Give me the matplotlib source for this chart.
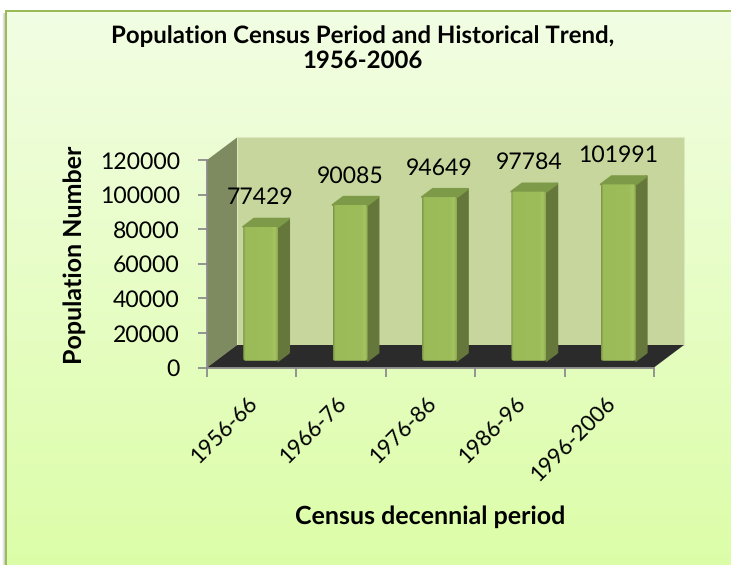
import numpy as np
import matplotlib
matplotlib.use("Agg")
import matplotlib.pyplot as plt
from matplotlib.patches import Polygon, FancyBboxPatch, Rectangle
from matplotlib.colors import LinearSegmentedColormap

periods = ["1956-66", "1966-76", "1976-86", "1986-96", "1996-2006"]
population = [77429, 90085, 94649, 97784, 101991]
y_ticks = [0, 20000, 40000, 60000, 80000, 100000, 120000]
title = "Population Census Period and Historical Trend,\n1956-2006"
x_label = "Census decennial period"
y_label = "Population Number"

W, H = 731, 565
plt.rcParams['font.family'] = ['Lato', 'DejaVu Sans']
plt.rcParams['text.hinting'] = 'no_hinting'
plt.rcParams['text.hinting_factor'] = 1
fig = plt.figure(figsize=(W / 100, H / 100), dpi=100)
fig.patch.set_facecolor('white')

# background panel with left/top border and soft left shadow
bg = fig.add_axes([0, 0, 1, 1], zorder=0)
bg.axis('off')
cm = LinearSegmentedColormap.from_list('bg', ['#F2FEE3', '#DCFDA8'])
bg.imshow(np.linspace(0, 1, 256)[:, None], cmap=cm, aspect='auto', extent=(6, W, H, 12))
shadow = LinearSegmentedColormap.from_list('sh', ['#FFFFFF', '#C8C8C8'])
bg.imshow(np.linspace(0, 1, 8)[None, :], cmap=shadow, aspect='auto', extent=(2, 5, H, 13))
bg.add_patch(Rectangle((5, 10), 2, H, fc='#9BBB59', ec='none'))
bg.add_patch(Rectangle((5, 10), W, 2, fc='#9BBB59', ec='none'))
bg.set_xlim(0, W); bg.set_ylim(H, 0)

# plot axes = front plane of the 3D box
x0, x1, y_bot, y_top = 207, 654, 367.5, 160
ax = fig.add_axes([x0 / W, 1 - y_bot / H, (x1 - x0) / W, (y_bot - y_top) / H], zorder=1)
ax.patch.set_alpha(0)
px_x = (x1 - x0) / 5
px_y = (y_bot - y_top) / 120000
DX = 30 / px_x
DY = 22.5 / px_y

def proj(c, v, d=0.0):
    return (c + d * DX, v + d * DY)

def poly(pts, **kw):
    p = Polygon(pts, closed=True, clip_on=False, **kw)
    ax.add_patch(p)
    return p

ymax = y_ticks[-1]
poly([proj(-.5, 0, 1), proj(4.5, 0, 1), proj(4.5, ymax, 1), proj(-.5, ymax, 1)], fc='#C6D69C', ec='#DCE8BE', lw=0.8, zorder=1)
poly([proj(-.5, 0), proj(-.5, 0, 1), proj(-.5, ymax, 1), proj(-.5, ymax)], fc='#7E8A60', ec='none', zorder=1)
poly([proj(-.5, 0), proj(4.5, 0), proj(4.5, 0, 1), proj(-.5, 0, 1)], fc='#2B2B2B', ec='none', zorder=1)

bw = 35 / px_x
d0, d1 = 0.3, 0.66
bar_cm = LinearSegmentedColormap.from_list('bar', [
    (0, '#7A9449'), (0.06, '#9BBB59'), (0.82, '#9DBD5B'), (0.92, '#A6C561'), (1, '#8FAB52')])
for i, v in enumerate(population):
    l, r = i - bw / 2, i + bw / 2
    poly([proj(r, 0, d0), proj(r, 0, d1), proj(r, v, d1), proj(r, v, d0)], fc='#65773A', ec='#65773A', lw=1.5, zorder=3, joinstyle='round')
    poly([proj(l, v, d0), proj(r, v, d0), proj(r, v, d1), proj(l, v, d1)], fc='#7D9A48', ec='#7D9A48', lw=1.5, zorder=3, joinstyle='round')
    xa, ya = proj(l, 0, d0)
    xb, yb = proj(r, v, d0)
    im = ax.imshow(np.linspace(0, 1, 64)[None, :], cmap=bar_cm, aspect='auto', extent=(xa, xb, ya, yb), zorder=4)
    clip = FancyBboxPatch((xa, ya), xb - xa, yb - ya, boxstyle=f'round,pad=0,rounding_size={2.5 / px_x}',
                          mutation_aspect=px_x / px_y, fc='none', ec='none', transform=ax.transData)
    ax.add_patch(clip)
    clip.set_clip_on(False)
    im.set_clip_path(clip)
    lx, ly = proj(i, v, d1)
    ax.annotate(str(v), (lx, ly), xytext=(-11, 21), textcoords='offset pixels', ha='center', va='center',
                fontsize=16.3, zorder=6, annotation_clip=False)

ax.set_xlim(-0.5, 4.5)
ax.set_ylim(0, 120000)

for s in ('top', 'right'):
    ax.spines[s].set_visible(False)
for s in ('left', 'bottom'):
    ax.spines[s].set_color('#8C8C8C')
    ax.spines[s].set_linewidth(1.3)
ax.set_yticks(y_ticks)
ax.set_xticks(np.arange(-0.5, 5, 1))
ax.set_xticklabels([])
ax.tick_params(axis='both', color='#8C8C8C', width=1.3, length=6.5)
ax.tick_params(axis='y', labelsize=16.3, pad=13)

for i, p in enumerate(periods):
    ax.annotate(p, (i, 0), xytext=(3, -33), textcoords='offset pixels', rotation=45, rotation_mode='anchor',
                ha='right', va='center', fontsize=16, annotation_clip=False)

fig.text(363 / W, 1 - 48.5 / H, title, ha='center', va='center', fontsize=17.5, fontweight='bold', linespacing=1.15, zorder=5)
fig.text(430 / W, 1 - 517 / H, x_label, ha='center', va='center', fontsize=18, fontweight='bold', zorder=5)
fig.text(75 / W, 1 - 255 / H, y_label, ha='center', va='center', rotation=90, fontsize=18, fontweight='bold', zorder=5)

fig.savefig('out.png', dpi=100)
